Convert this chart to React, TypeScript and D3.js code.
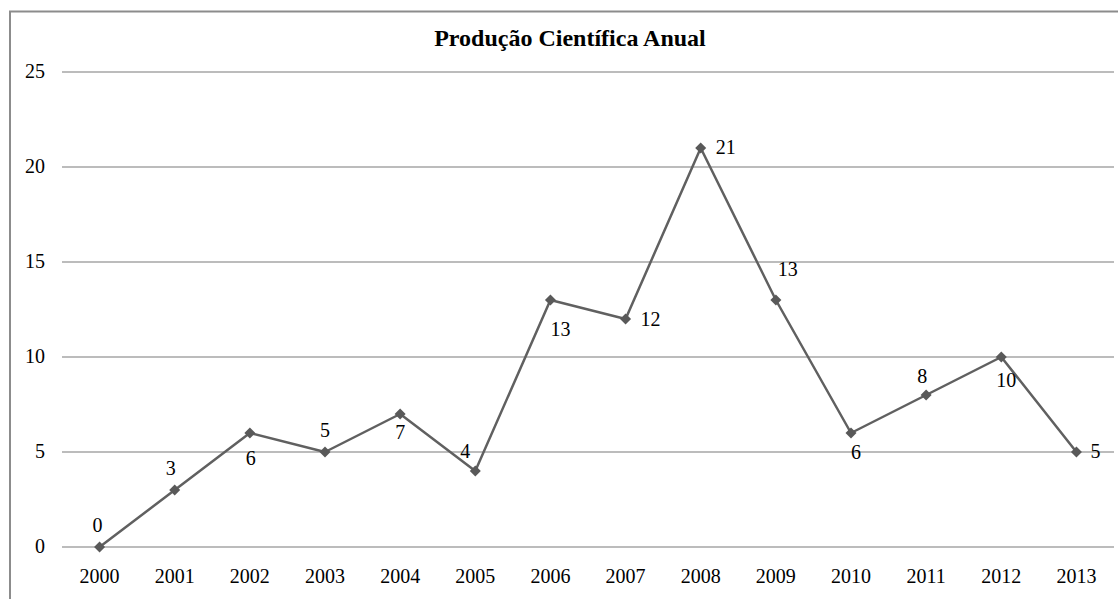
import React from "react";
import * as d3 from "d3";

const years = ["2000","2001","2002","2003","2004","2005","2006","2007","2008","2009","2010","2011","2012","2013"];
const values = [0,3,6,5,7,4,13,12,21,13,6,8,10,5];
const yTicks = [0,5,10,15,20,25];
const title = "Produção Científica Anual";
// label placement per point: [dx, dy] relative to the marker
const labelOffsets: [number, number][] = [
  [-2,-21],[-4,-21],[1,26],[0,-21],[0,19],[-10,-19],[10,30],[25,1],[25,0],[12,-30],[5,20],[-4,-18],[5,24],[19,0]
];

export default function App() {
  const W = 1118, H = 599;
  const left = 62, right = 1114, top = 72, bottom = 547;
  const x = d3.scaleBand<string>().domain(years).range([left, right]).padding(0);
  const y = d3.scaleLinear().domain([0, 25]).range([bottom, top]);
  const cx = (d: string) => (x(d) as number) + x.bandwidth() / 2;
  const line = d3.line<number>().x((_, i) => cx(years[i])).y((v) => y(v));
  const font = "Liberation Serif";
  const fs = 20;
  return (
    <svg width={W} height={H} style={{ position: "absolute", left: 0, top: 0 }}>
      <rect x={0} y={0} width={W} height={H} fill="#fff" />
      <rect x={10} y={11.5} width={W + 20} height={H + 20} fill="none" stroke="#8c8c8c" strokeWidth={2} />
      <text x={570} y={46} textAnchor="middle" fontFamily={font} fontWeight="bold" fontSize={24} fill="#000">{title}</text>
      {yTicks.map((t) => (
        <g key={t}>
          <line x1={left} x2={right} y1={y(t)} y2={y(t)} stroke="#a6a6a6" strokeWidth={1.3} />
          <text x={45} y={y(t) + 6} textAnchor="end" fontFamily={font} fontSize={fs} fill="#000">{t}</text>
        </g>
      ))}
      {years.map((yr) => (
        <text key={yr} x={cx(yr)} y={583} textAnchor="middle" fontFamily={font} fontSize={fs} fill="#000">{yr}</text>
      ))}
      <path d={line(values) || ""} fill="none" stroke="#606060" strokeWidth={2.5} strokeLinejoin="round" />
      {values.map((v, i) => {
        const px = cx(years[i]), py = y(v);
        const s = 5.5;
        return (
          <path key={i} d={`M${px},${py - s}L${px + s},${py}L${px},${py + s}L${px - s},${py}Z`} fill="#595959" />
        );
      })}
      {values.map((v, i) => (
        <text key={"l" + i} x={cx(years[i]) + labelOffsets[i][0]} y={y(v) + labelOffsets[i][1] + 6}
          textAnchor="middle" fontFamily={font} fontSize={fs} fill="#000">{v}</text>
      ))}
    </svg>
  );
}
